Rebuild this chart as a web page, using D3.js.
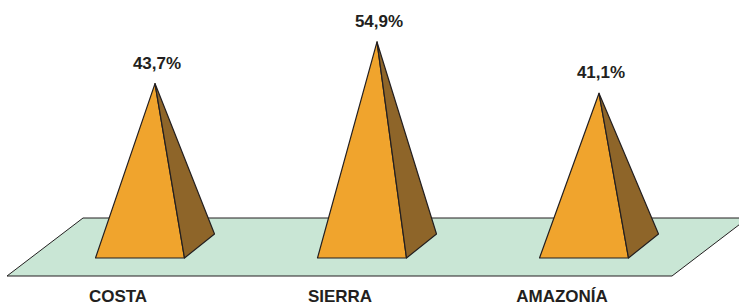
<!DOCTYPE html>
<html lang="es">
<head>
<meta charset="UTF-8" />
<title>Regiones</title>
<script src="https://d3js.org/d3.v7.min.js"></script>
<style>
  body { margin: 0; background: #fff; }
  svg text { font-family: "Liberation Sans", Arial, sans-serif; font-weight: bold; fill: #231f20; }
</style>
</head>
<body>
<svg id="chart" width="739" height="306"></svg>
<script>
const categories = ['COSTA', 'SIERRA', 'AMAZONÍA']
const values = [43.7, 54.9, 41.1]
const valueLabels = ['43,7%', '54,9%', '41,1%']

const width = 739
const height = 306
const svg = d3.select('#chart')

// apex x of each pyramid
const x = d3.scalePoint().domain(categories).range([155, 599])
// height measured from centre of the pyramid base
const y = d3.scaleLinear().domain([0, 60]).range([246, 23])

const baseFront = 258, baseBack = 234
const half = 59.5, depth = 30

// floor (parallelogram)
const floor = [[83, 218], [748, 218], [672, 276], [7, 276]]
svg.append('path')
  .attr('d', d3.line()(floor) + 'Z')
  .attr('fill', '#c9e6d5')
  .attr('stroke', '#231f20')
  .attr('stroke-width', 1)

const g = svg.selectAll('g.pyr')
  .data(categories.map((c, i) => ({ c, v: values[i], label: valueLabels[i] })))
  .join('g')
  .attr('class', 'pyr')

const line = d3.line()

// front face
g.append('path')
  .attr('d', d => {
    const cx = x(d.c)
    return line([[cx - half, baseFront], [cx + half - depth, baseFront], [cx, y(d.v)]]) + 'Z'
  })
  .attr('fill', '#f0a42d')
  .attr('stroke', '#231f20')
  .attr('stroke-width', 1.2)
  .attr('stroke-linejoin', 'round')

// side face
g.append('path')
  .attr('d', d => {
    const cx = x(d.c)
    return line([[cx + half - depth, baseFront], [cx + half, baseBack], [cx, y(d.v)]]) + 'Z'
  })
  .attr('fill', '#8e6529')
  .attr('stroke', '#231f20')
  .attr('stroke-width', 1.2)
  .attr('stroke-linejoin', 'round')

g.append('text')
  .attr('x', d => x(d.c) + 2)
  .attr('y', d => y(d.v) - 15)
  .attr('text-anchor', 'middle')
  .style('font-size', '17px')
  .text(d => d.label)

g.append('text')
  .attr('x', d => x(d.c) - 37)
  .attr('y', 302)
  .attr('text-anchor', 'middle')
  .style('font-size', '17px')
  .text(d => d.c)
</script>
</body>
</html>
